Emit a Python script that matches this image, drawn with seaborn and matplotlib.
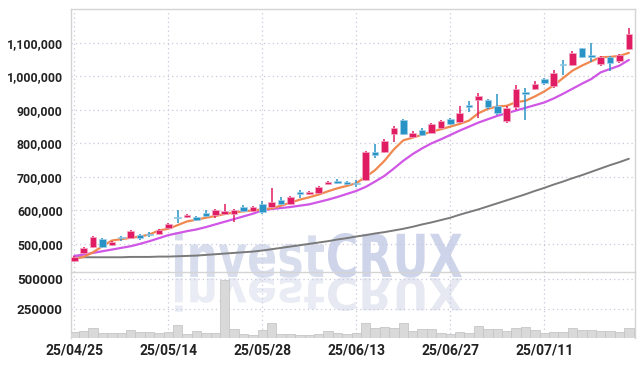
import numpy as np
import pandas as pd
import matplotlib
matplotlib.use("Agg")
import matplotlib.pyplot as plt
import seaborn as sns
from matplotlib.textpath import TextPath
from matplotlib.patches import PathPatch
from matplotlib.font_manager import FontProperties
from matplotlib.transforms import Affine2D
from matplotlib.ticker import FuncFormatter

# ---------------- data ----------------
dates = ["25/04/25", "25/04/28", "25/04/29", "25/04/30", "25/05/02", "25/05/07", "25/05/08", "25/05/09",
         "25/05/12", "25/05/13", "25/05/14", "25/05/15", "25/05/16", "25/05/19", "25/05/20", "25/05/21",
         "25/05/22", "25/05/23", "25/05/26", "25/05/27", "25/05/28", "25/05/29", "25/05/30", "25/06/02",
         "25/06/04", "25/06/05", "25/06/09", "25/06/10", "25/06/11", "25/06/12", "25/06/13", "25/06/16",
         "25/06/17", "25/06/18", "25/06/19", "25/06/20", "25/06/23", "25/06/24", "25/06/25", "25/06/26",
         "25/06/27", "25/06/30", "25/07/01", "25/07/02", "25/07/03", "25/07/04", "25/07/07", "25/07/08",
         "25/07/09", "25/07/10", "25/07/11", "25/07/14", "25/07/15", "25/07/16", "25/07/17", "25/07/18",
         "25/07/21", "25/07/22", "25/07/23", "25/07/24"]

opens = [449, 473, 491, 515, 497, 518, 518, 527, 528, 530,
         548, 581, 580, 581, 592, 587, 590, 590, 611, 597,
         619, 611, 631, 619, 653, 649, 651, 678, 689, 685,
         682, 691, 774, 775, 828, 870, 820, 840, 832, 847,
         872, 865, 911, 930, 928, 910, 867, 908, 951, 962,
         993, 970, 1038, 1034, 1084, 1063, 1037, 1059, 1047, 1081]
highs = [463, 490, 524, 517, 510, 524, 542, 530, 536, 545,
         563, 600, 589, 584, 600, 603, 618, 604, 615, 614,
         627, 667, 640, 643, 660, 658, 673, 689, 693, 688,
         690, 778, 798, 812, 851, 872, 836, 847, 861, 869,
         876, 910, 925, 950, 931, 948, 910, 975, 966, 985,
         996, 1020, 1049, 1075, 1086, 1100, 1062, 1062, 1068, 1144]
lows = [447, 471, 488, 489, 494, 509, 516, 512, 521, 528,
        545, 562, 577, 568, 580, 578, 586, 566, 596, 595,
        588, 608, 617, 615, 637, 646, 648, 675, 679, 676,
        669, 688, 755, 772, 805, 825, 816, 823, 830, 844,
        854, 862, 895, 876, 902, 885, 862, 900, 870, 958,
        975, 965, 1004, 1030, 1055, 1043, 1032, 1015, 1040, 1078]
closes = [461, 488, 521, 491, 507, 516, 539, 518, 526, 542,
          560, 577, 586, 572, 582, 601, 597, 601, 599, 611,
          596, 626, 620, 640, 650, 655, 670, 686, 681, 678,
          679, 775, 766, 807, 846, 828, 832, 826, 858, 866,
          858, 892, 909, 941, 909, 891, 905, 963, 948, 977,
          980, 1011, 1034, 1069, 1059, 1059, 1057, 1041, 1063, 1127]

ma_short = [455, 461, 475, 493, 510, 514, 518, 522, 528, 540,
            545, 556, 567, 572, 578, 583, 589, 594, 597, 600,
            603, 606, 614, 623, 632, 639, 647, 657, 666, 673,
            681, 700, 720, 748, 782, 809, 817, 826, 835, 842,
            850, 858, 868, 890, 903, 910, 912, 923, 927, 940,
            955, 973, 995, 1017, 1032, 1045, 1057, 1058, 1061, 1070]
ma_mid = [464, 468, 473, 478, 483, 488, 493, 500, 508, 517,
          526, 532, 538, 543, 550, 558, 566, 574, 582, 590,
          600, 604, 607, 610, 614, 618, 625, 632, 640, 649,
          658, 670, 686, 703, 725, 748, 768, 785, 800, 812,
          825, 838, 850, 862, 872, 882, 890, 898, 906, 914,
          922, 934, 948, 963, 978, 992, 1012, 1022, 1032, 1049]
ma_long = [460, 460, 460, 460, 460, 460, 461, 461, 461, 462,
           462, 463, 464, 465, 467, 469, 471, 473, 475, 477,
           480, 484, 488, 492, 496, 500, 504, 508, 513, 517,
           522, 526, 531, 535, 540, 545, 551, 558, 564, 571,
           578, 587, 595, 603, 612, 621, 630, 639, 648, 658,
           667, 677, 686, 696, 705, 715, 725, 735, 744, 754]

volumes = [53, 61, 83, 42, 42, 42, 67, 53, 53, 44,
           53, 108, 36, 58, 44, 44, 492, 75, 36, 28,
           67, 125, 36, 36, 28, 28, 36, 61, 44, 33,
           42, 125, 89, 94, 81, 128, 56, 75, 75, 44,
           33, 53, 44, 103, 75, 75, 58, 81, 94, 69,
           42, 53, 53, 83, 69, 69, 56, 61, 47, 81]

tick_labels = ["25/04/25", "25/05/14", "25/05/28", "25/06/13", "25/06/27", "25/07/11"]
price_ticks = [500000, 600000, 700000, 800000, 900000, 1000000, 1100000]
volume_ticks = [250000, 500000]

# ---------------- frame ----------------
df = pd.DataFrame({
    "date": dates,
    "open": np.array(opens) * 1000.0,
    "high": np.array(highs) * 1000.0,
    "low": np.array(lows) * 1000.0,
    "close": np.array(closes) * 1000.0,
    "ma_short": np.array(ma_short) * 1000.0,
    "ma_mid": np.array(ma_mid) * 1000.0,
    "ma_long": np.array(ma_long) * 1000.0,
    "volume": np.array(volumes) * 1000.0,
})
df["idx"] = np.arange(len(df))

sns.set_theme(style="white")
plt.rcParams["font.family"] = ["Roboto", "DejaVu Sans"]

W, H = 644, 366
fig = plt.figure(figsize=(W / 100, H / 100), dpi=100)
fig.patch.set_facecolor("white")

left, right = 71 / W, 635 / W
ax = fig.add_axes([left, 1 - 272 / H, right - left, (272 - 9) / H])
axv = fig.add_axes([left, 1 - 338 / H, right - left, (338 - 272) / H])

UP = "#e01c62"
DOWN = "#2a93c6"
GRID = "#c9c9de"
SPINE = "#d4d4d4"
TXT = "#222222"

xlim = (-0.35, 59.65)

# moving averages
sns.lineplot(data=df, x="idx", y="ma_long", ax=ax, color="#7a7a7a", lw=1.4, zorder=2)
sns.lineplot(data=df, x="idx", y="ma_mid", ax=ax, color="#d056e6", lw=1.6, zorder=2)
sns.lineplot(data=df, x="idx", y="ma_short", ax=ax, color="#f08850", lw=1.6, zorder=2)

# candles
up = df["close"] >= df["open"]
cols = np.where(up, UP, DOWN)
ax.vlines(df["idx"], df["low"], df["high"], colors=cols, lw=1.1, zorder=3)
body_lo = np.minimum(df["open"], df["close"])
body_h = np.maximum(np.abs(df["close"] - df["open"]), 4000)
ax.bar(df["idx"], body_h, bottom=body_lo, width=0.72, color=cols,
       edgecolor=np.where(up, "#f2a9c4", "#9fd0e8"), linewidth=0.5, zorder=4)

ax.set_xlim(*xlim)
ax.set_ylim(416000, 1201000)
tick_pos = [dates.index(t) for t in tick_labels]
ax.set_xticks(tick_pos)
ax.set_xticklabels([])
ax.set_yticks(price_ticks)
ax.yaxis.set_major_formatter(FuncFormatter(lambda v, p: f"{int(v):,}"))
ax.set_xlabel("")
ax.set_ylabel("")

# volume
sns.barplot(data=df, x="idx", y="volume", ax=axv, color="#d9d9d9", saturation=1,
            width=1.0, edgecolor="#c6c6c6", linewidth=0.6, zorder=3)
axv.set_xlim(*xlim)
axv.set_ylim(0, 560000)
axv.set_xticks(tick_pos)
axv.set_xticklabels(tick_labels)
axv.set_yticks(volume_ticks)
axv.set_yticklabels([str(v) for v in volume_ticks])
axv.set_xlabel("")
axv.set_ylabel("")

for a in (ax, axv):
    a.set_zorder(2)
    a.patch.set_alpha(0)
    a.grid(True, linestyle=(0, (1, 2.5)), color=GRID, lw=0.9, zorder=0)
    a.set_axisbelow(True)
    for s in a.spines.values():
        s.set_color(SPINE)
        s.set_linewidth(1.0)
    a.tick_params(axis="both", length=0, colors=TXT, labelsize=8.8, pad=6)
    for lab in a.get_xticklabels() + a.get_yticklabels():
        lab.set_fontweight("bold")
axv.spines["top"].set_visible(False)
axv.spines["bottom"].set_visible(False)
axv.tick_params(axis="x", labelsize=10, pad=4)
axv.tick_params(axis="y", labelsize=9.6)

# watermark with reflection
fp = FontProperties(family="DejaVu Sans", weight="bold")
tp_a = TextPath((0, 0), "invest", size=100, prop=fp)
tp_b = TextPath((0, 0), "CRUX", size=100, prop=fp)
ea, eb = tp_a.get_extents(), tp_b.get_extents()
off = ea.x1 + 4
x0, x1 = ea.x0, off + eb.x1
sx = (462 - 175) / (x1 - x0)
sy = 44 / eb.y1
base = Affine2D().translate(-x0, 0).scale(sx, sy).translate(175, H - 277)
refl = Affine2D().translate(-x0, 0).scale(sx, -sy * 0.75).translate(175, H - 278)
for path, shift, col, rcol in ((tp_a, 0, "#d8ddee", "#e9ecf4"), (tp_b, off, "#ced4ea", "#e6e9f2")):
    sh = Affine2D().translate(shift, 0)
    fig.add_artist(PathPatch(path, transform=sh + base, facecolor=col, edgecolor="none", zorder=0.5))
    fig.add_artist(PathPatch(path, transform=sh + refl, facecolor=rcol, edgecolor="none", zorder=0.5))

fig.savefig("out.png", dpi=100, facecolor="white")
